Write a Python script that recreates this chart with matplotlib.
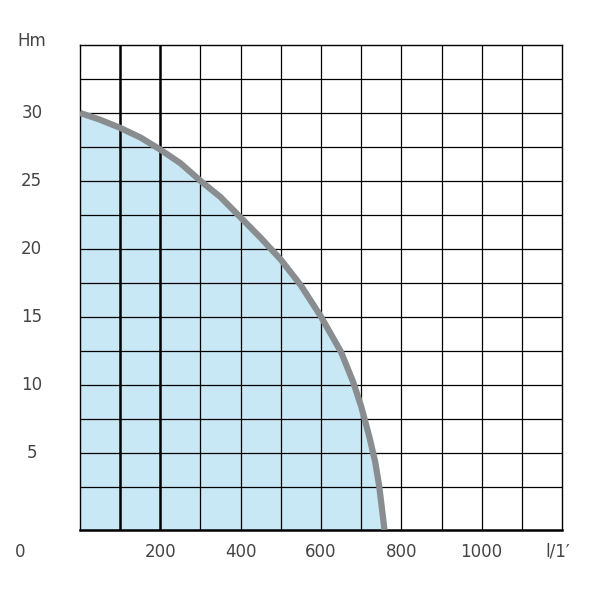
import matplotlib
matplotlib.use("Agg")
import matplotlib.pyplot as plt
import numpy as np

flow = [0, 50, 100, 150, 200, 250, 300, 350, 400, 450, 500, 550, 600, 650, 680, 700, 720, 735, 745, 752, 758]
head = [30.0, 29.5, 28.9, 28.2, 27.3, 26.3, 25.0, 23.8, 22.3, 20.8, 19.2, 17.3, 15.0, 12.4, 10.2, 8.4, 6.2, 4.3, 2.5, 0.8, -0.7]
xticks = [200, 400, 600, 800, 1000]
yticks = [5, 10, 15, 20, 25, 30]

fig = plt.figure(figsize=(6, 6), dpi=100)
ax = fig.add_axes([0.1333, 0.1167, 0.8034, 0.8083])
ax.set_xlim(0, 1200)
ax.set_ylim(-0.7, 35.0)

ax.fill_between(flow, head, -0.7, color="#c8e8f6", zorder=1)
for x in np.arange(100, 1200, 100):
    lw = 1.8 if x in (100, 200) else 0.9
    ax.axvline(x, color="black", lw=lw, zorder=2)
for y in np.arange(2.5, 34.0, 2.5):
    ax.axhline(y, color="black", lw=0.9, zorder=2)
ax.plot(flow, head, color="#8a8d90", lw=4.5, solid_capstyle="butt", zorder=3)

for s in ax.spines.values():
    s.set_color("black"); s.set_linewidth(1.0)
ax.spines["bottom"].set_linewidth(1.8)
ax.set_xticks([]); ax.set_yticks([])

c = "#444444"
for x in xticks:
    ax.text(x, -2.3, str(x), ha="center", va="center", fontsize=12, color=c)
for y in yticks:
    ax.text(-120, y, str(y), ha="center", va="center", fontsize=12, color=c)
ax.text(-150, -2.3, "0", ha="center", va="center", fontsize=12, color=c)
ax.text(-120, 35.3, "Hm", ha="center", va="center", fontsize=12, color=c)
ax.text(1190, -2.3, "l/1\u2032", ha="center", va="center", fontsize=12, color=c)

fig.savefig("out.png", dpi=100)
